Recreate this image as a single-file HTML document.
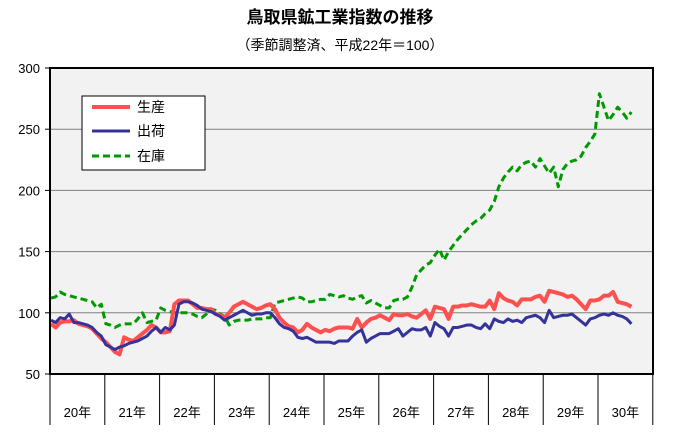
<!DOCTYPE html>
<html><head><meta charset="utf-8"><style>
body{margin:0;background:#fff;}
svg text{font-family:"Liberation Sans","Noto Sans CJK JP",sans-serif;}
</style></head><body>
<svg id="chart" width="673" height="434" xmlns="http://www.w3.org/2000/svg">
<text x="340" y="23" text-anchor="middle" font-size="17" font-weight="bold">鳥取県鉱工業指数の推移</text>
<text x="340" y="50" text-anchor="middle" font-size="14">（季節調整済、平成22年＝100）</text>
<rect x="50" y="68" width="603" height="306" fill="#f2f2f2"/>
<g id="grid"></g>
<g id="yticks"></g>
<g id="xaxis"></g>
<g id="series"></g>
<rect x="50" y="68" width="603" height="306" fill="none" stroke="#000" stroke-width="2"/>
<g>
<rect x="82" y="96" width="123" height="74" fill="#fff" stroke="#000" stroke-width="1"/>
<line x1="92" y1="107" x2="130" y2="107" stroke="#ff5050" stroke-width="4"/>
<text x="137" y="112" font-size="14">生産</text>
<line x1="92" y1="131" x2="130" y2="131" stroke="#333399" stroke-width="3"/>
<text x="137" y="136" font-size="14">出荷</text>
<line x1="92" y1="156" x2="130" y2="156" stroke="#009900" stroke-width="3" stroke-dasharray="7,4"/>
<text x="137" y="161" font-size="14">在庫</text>
</g>
</svg>
<script>
const years = ["20年","21年","22年","23年","24年","25年","26年","27年","28年","29年","30年"];
const yTicks = [50,100,150,200,250,300];
const production = [91,88,92,93,93,94,91,90,89,87,83,79,
76,72,68,66,80,78,77,80,83,86,90,88,
84,84,85,107,110,110,110,107,104,104,103,103,
99,98,96,100,105,107,109,107,105,103,104,106,
107,103,96,92,89,88,84,86,91,88,86,84,
86,85,87,88,88,88,87,95,88,92,95,96,
98,96,94,99,98,98,99,97,96,99,102,95,
105,104,103,95,105,105,106,106,107,106,105,105,
110,103,116,112,110,109,106,111,111,111,113,114,
109,118,117,116,115,113,114,111,107,103,110,110,
111,114,114,117,109,108,107,105];
const shipment = [94,92,96,95,99,92,92,91,90,88,84,81,
74,72,70,72,73,75,76,77,79,81,85,88,
84,88,86,90,107,109,109,108,106,103,102,101,
99,97,94,96,98,100,102,100,98,99,99,100,
100,96,91,88,87,85,80,79,80,78,76,76,
76,76,75,77,77,77,81,84,86,76,79,81,
83,83,83,85,87,81,84,87,86,86,88,81,
92,89,87,81,88,88,89,90,90,88,87,91,
87,95,93,92,95,93,94,92,96,97,98,96,
92,102,96,97,98,98,99,96,93,90,95,96,
98,99,98,100,98,97,95,91];
const inventory = [112,113,117,115,114,113,112,111,110,109,104,107,
91,90,88,90,91,91,91,95,100,92,93,94,
104,102,101,100,100,100,100,99,97,96,99,103,
102,99,97,90,93,94,94,94,95,95,95,96,
96,108,109,110,111,112,113,112,109,109,110,111,
111,115,114,113,114,112,111,113,114,108,110,108,
106,104,104,110,111,111,113,121,131,135,139,141,
147,152,143,150,155,160,164,168,172,175,177,181,
184,191,203,210,215,219,216,221,223,224,219,226,
220,214,219,203,217,222,224,225,228,235,240,246,
279,268,257,262,268,264,259,264];

const NS="http://www.w3.org/2000/svg";
const yS=v=>374-(v-50)*306/250;
const xS=i=>51+i*4.57;
function mk(tag,attrs,parent){const e=document.createElementNS(NS,tag);for(const k in attrs)e.setAttribute(k,attrs[k]);parent.appendChild(e);return e;}
const grid=document.getElementById('grid'),yt=document.getElementById('yticks'),xa=document.getElementById('xaxis'),sg=document.getElementById('series');
yTicks.forEach(t=>{
  if(t>50&&t<300){const l=mk('line',{x1:50,x2:653,y1:yS(t),y2:yS(t),stroke:'#808080','stroke-width':1},grid);
  
  }
  const tk=mk('line',{x1:45,x2:50,y1:yS(t),y2:yS(t),stroke:'#000','stroke-width':1},yt);
  
  
  const tx=mk('text',{x:40,y:yS(t)+5,'text-anchor':'end','font-size':13},yt);
  tx.textContent=t;
  
  
});
for(let k=0;k<=years.length;k++){
  const x=Math.min(50+k*54.8,653);
  const l=mk('line',{x1:x,x2:x,y1:374,y2:425,stroke:'#000','stroke-width':1},xa);
  
  
}
years.forEach((y,k)=>{
  const t=mk('text',{x:50+k*54.8+27.4,y:417,'text-anchor':'middle','font-size':13},xa);
  t.textContent=y;
  
  
});
function line(data,color,w,dash,name){
  const p=mk('polyline',{points:data.map((v,i)=>xS(i)+','+yS(v)).join(' '),fill:'none',stroke:color,'stroke-width':w,'stroke-linejoin':'round'},sg);
  if(dash)p.setAttribute('stroke-dasharray',dash);
  
  
}
line(inventory,'#009900',3,'7,4','inventory-line');
line(production,'#ff5050',4,null,'production-line');
line(shipment,'#333399',3,null,'shipment-line');
</script>
</body></html>
